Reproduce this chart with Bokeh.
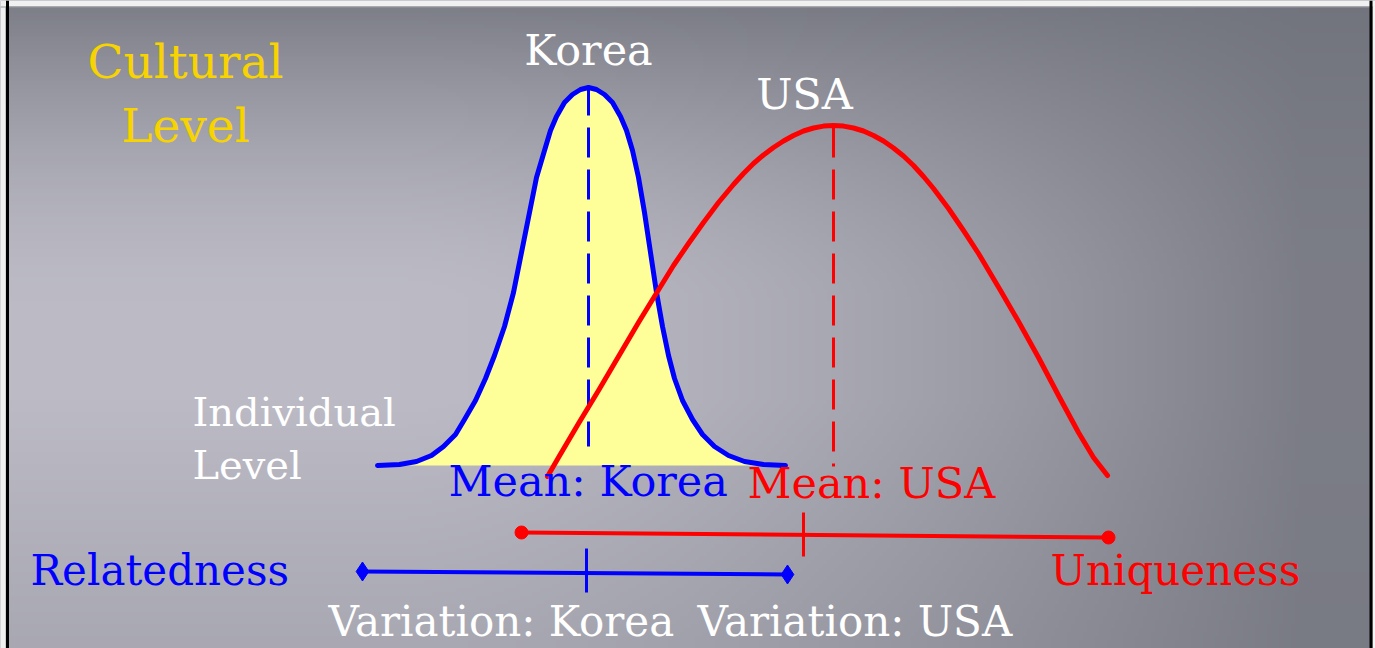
import numpy as np
from bokeh.plotting import figure
from bokeh.models import Range1d, Span
from bokeh.core.properties import value
from bokeh.embed import file_html
from bokeh.resources import INLINE

# ---------------- data (pixel units) ----------------
korea_x = [377, 399, 416, 431, 443, 455, 464, 475, 485, 494, 504, 513, 521, 529, 536, 544, 550, 556, 564, 572,
           580, 588, 596, 604, 612, 620, 626, 632, 638, 644, 650, 656, 662, 668, 674, 682, 692, 702, 714, 728,
           744, 763, 785]
korea_y = [465, 464, 461, 455, 446, 434, 419, 400, 378, 355, 326, 292, 252, 212, 177, 150, 130, 116, 102, 94,
           89, 87, 89, 94, 102, 116, 130, 150, 177, 212, 252, 292, 326, 355, 378, 400, 419, 434, 446, 455,
           461, 464, 465]
korea_base = 465
korea_mean = 588
korea_mean_span = [85, 446]

usa_x = [547, 558, 578, 598, 618, 638, 657, 673, 688, 703, 718, 733, 743, 753, 763, 773, 783, 793, 803, 813,
         823, 833, 843, 853, 863, 873, 883, 893, 903, 913, 923, 933, 948, 963, 978, 1000, 1018, 1038, 1058,
         1078, 1093, 1107]
usa_y = [476, 457, 423, 390, 356, 322, 291, 265, 243, 222, 202, 184, 173, 163, 154.5, 147, 140.5, 135, 130.5,
         127.5, 125.6, 125, 125.6, 127.5, 130.5, 135, 140.5, 147.5, 155.5, 165, 176, 188, 208, 230, 253, 290,
         321, 357, 395, 432, 457, 475]
usa_mean = 833
usa_mean_span = [127, 466]

korea_range_x = [362, 787]
korea_range_y = [571, 574]
korea_tick = [586, 548, 592]
usa_range_x = [521, 1108]
usa_range_y = [532, 537]
usa_tick = [803, 512, 556]

title_lines = ["Cultural", "Level"]
indiv_lines = ["Individual", "Level"]
group_names = ["Korea", "USA"]
mean_labels = ["Mean: Korea", "Mean: USA"]
pole_labels = ["Relatedness", "Uniqueness"]
var_labels = ["Variation: Korea", "Variation: USA"]

# ---------------- figure ----------------
W, H = 1375, 648
p = figure(width=W, height=H, x_range=Range1d(0, W), y_range=Range1d(H, 0),
           output_backend="svg", toolbar_location=None, x_axis_type=None, y_axis_type=None,
           min_border=0)
p.grid.visible = False
p.outline_line_color = None
p.background_fill_color = "#a9a9b3"
p.border_fill_color = "#a9a9b3"

# background gradient (decoration only); row 0 = top of the picture
ny, nx = 162, 344
ys = (np.arange(ny) + 0.5) * H / ny
xs = (np.arange(nx) + 0.5) * W / nx
XX, YY = np.meshgrid(xs, ys)
R = 0.85 * np.clip((XX - 400) / 900, 0, 1) ** 1.6
T = 0.82 * np.clip((300 - YY) / 290, 0, 1) ** 1.6
B = 0.25 * np.clip((YY - 400) / 240, 0, 1)
f = (1 - R) * (1 - T) * (1 - B)
img = np.empty((ny, nx), dtype=np.uint32)
view = img.view(dtype=np.uint8).reshape((ny, nx, 4))
view[..., 0] = (112 + 76 * f).astype(np.uint8)
view[..., 1] = (114 + 73 * f).astype(np.uint8)
view[..., 2] = (124 + 73 * f).astype(np.uint8)
view[..., 3] = 255
p.image_rgba(image=[img], x=0, y=0, dw=W, dh=H)

# slide frame
p.quad(left=[0], right=[W], top=[0], bottom=[6], fill_color="#f0f0f0", line_color=None)
p.quad(left=[0], right=[5], top=[0], bottom=[H], fill_color="#f0f0f0", line_color=None)
p.quad(left=[1372], right=[W], top=[0], bottom=[H], fill_color="#f4f4f4", line_color=None)
p.segment(x0=[0], y0=[6.5], x1=[1372], y1=[6.5], line_color="#9a9aa0", line_width=1)

serif = value("DejaVu Serif")

# Korea distribution
p.varea(x=korea_x, y1=korea_y, y2=[korea_base] * len(korea_x), fill_color="#FFFF99")
p.line(korea_x, korea_y, line_color="#0000FF", line_width=5, line_join="round", line_cap="round")
p.line([korea_mean, korea_mean], korea_mean_span, line_color="#0000FF", line_width=3, line_dash="30 12")

# USA distribution
p.line(usa_x, usa_y, line_color="#FF0000", line_width=5, line_join="round", line_cap="round")
p.line([usa_mean, usa_mean], usa_mean_span, line_color="#FF0000", line_width=3, line_dash="30 12")

# range bars
p.line(usa_range_x, usa_range_y, line_color="#FF0000", line_width=4)
p.scatter(usa_range_x, usa_range_y, marker="circle", size=13, color="#FF0000")
p.segment(x0=[usa_tick[0]], y0=[usa_tick[1]], x1=[usa_tick[0]], y1=[usa_tick[2]],
          line_color="#FF0000", line_width=3)
p.line(korea_range_x, korea_range_y, line_color="#0000FF", line_width=4)
p.scatter(korea_range_x, korea_range_y, marker="diamond", size=19, color="#0000FF")
p.segment(x0=[korea_tick[0]], y0=[korea_tick[1]], x1=[korea_tick[0]], y1=[korea_tick[2]],
          line_color="#0000FF", line_width=3)

# texts (baseline y given; the renderer sits text ~0.4 em low, so compensate)
def txt(x, y, s, color, size, align="left"):
    p.text(x=[x], y=[y - 0.4 * size], text=[s], text_font=serif, text_font_size=f"{size}px",
           text_color=color, text_align=align, text_baseline="alphabetic")

txt(185, 80, title_lines[0], "#F7D300", 47, "center")
txt(185, 144, title_lines[1], "#F7D300", 47, "center")
txt(588, 67, group_names[0], "white", 43, "center")
txt(804, 111, group_names[1], "white", 43, "center")
txt(192, 427, indiv_lines[0], "white", 40)
txt(192, 480, indiv_lines[1], "white", 40)
txt(448, 498, mean_labels[0], "#0000FF", 43)
txt(747, 500, mean_labels[1], "#FF0000", 43)
txt(30, 587, pole_labels[0], "#0000FF", 42)
txt(1050, 587, pole_labels[1], "#FF0000", 42)
txt(328, 638, var_labels[0], "white", 42)
txt(697, 638, var_labels[1], "white", 42)

# frame edges
p.add_layout(Span(location=7, dimension="height", line_color="black", line_width=3))
p.add_layout(Span(location=1370.5, dimension="height", line_color="black", line_width=3))

open("out.html", "w").write(file_html(p, INLINE))
